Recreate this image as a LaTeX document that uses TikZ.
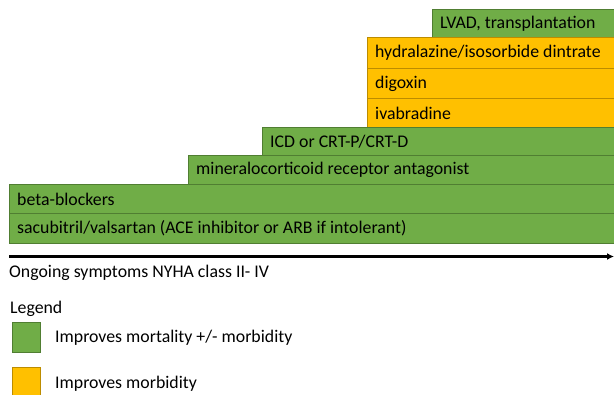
\documentclass[tikz,border=0pt]{standalone}
\usepackage{fontspec}
\setmainfont{Carlito}
\usetikzlibrary{arrows.meta}
\definecolor{gfill}{HTML}{70AD47}
\definecolor{gline}{HTML}{507E32}
\definecolor{ofill}{HTML}{FFC000}
\definecolor{oline}{HTML}{BC8C00}
\begin{document}
\begin{tikzpicture}[x=1pt,y=-1pt,
  gbar/.style={draw=gline,fill=gfill,line width=0.8pt},
  obar/.style={draw=oline,fill=ofill,line width=0.8pt},
  lbl/.style={anchor=west,font=\fontsize{17.8}{20}\selectfont,inner sep=0pt}]
\useasboundingbox (0,0) rectangle (614,395);
% bars
\draw[gbar] (432,9) rectangle (616,37);
\node[lbl] (lvad) at (440,23.5) {LVAD, transplantation};
\draw[obar] (367,37) rectangle (616,68);
\node[lbl] (hyd) at (375,53) {hydralazine/isosorbide dintrate};
\draw[obar] (367,68) rectangle (616,98);
\node[lbl] (dig) at (375,83.5) {digoxin};
\draw[obar] (367,98) rectangle (616,127);
\node[lbl] (iva) at (375,113) {ivabradine};
\draw[gbar] (262,127) rectangle (616,155);
\node[lbl] (icd) at (270,141.5) {ICD or CRT-P/CRT-D};
\draw[gbar] (188,155) rectangle (616,184);
\node[lbl] (mra) at (196,170) {mineralocorticoid receptor antagonist};
\draw[gbar] (9,184) rectangle (616,213);
\node[lbl] (bb) at (17,199) {beta-blockers};
\draw[gbar] (9,213) rectangle (616,243);
\node[lbl] (sac) at (17,228.5) {sacubitril/valsartan (ACE inhibitor or ARB if intolerant)};
% axis
\coordinate (a0) at (9,256.5);
\coordinate (a1) at (614,256.5);
\draw[line width=2.8pt,-{Latex[length=7pt,width=7pt]}] (a0) -- (a1);
\node[lbl] (axis) at (9,272.5) {Ongoing symptoms NYHA class II- IV};
% legend
\node[lbl] (leg) at (10,308.5) {Legend};
\draw[gbar] (12,322) rectangle (40,352);
\node[lbl] (lg) at (55,337.5) {Improves mortality +/- morbidity};
\draw[obar] (12,367) rectangle (40,397);
\node[lbl] (lo) at (55,383.5) {Improves morbidity};
\end{tikzpicture}
\end{document}
